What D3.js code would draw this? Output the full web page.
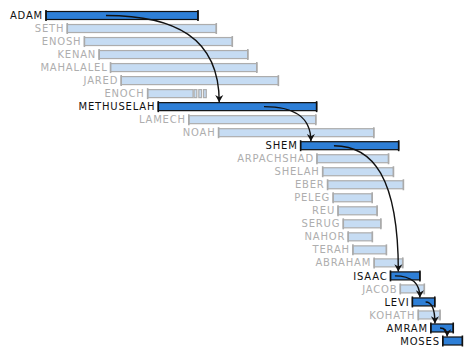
<!DOCTYPE html>
<html><head><meta charset="utf-8">
<script src="https://cdn.jsdelivr.net/npm/d3@7"></script>
<style>body{margin:0;background:#fff}svg{display:block}</style>
</head><body>
<svg id="c" width="474" height="355"></svg>
<script>
const names = ["ADAM","SETH","ENOSH","KENAN","MAHALALEL","JARED","ENOCH","METHUSELAH","LAMECH","NOAH","SHEM","ARPACHSHAD","SHELAH","EBER","PELEG","REU","SERUG","NAHOR","TERAH","ABRAHAM","ISAAC","JACOB","LEVI","KOHATH","AMRAM","MOSES"];
const births = [0,130,235,325,395,460,622,687,874,1056,1558,1658,1693,1723,1757,1787,1819,1849,1878,2008,2108,2168,2242,2278,2355,2428];
const deaths = [930,1042,1140,1235,1290,1422,987,1656,1651,2006,2158,2096,2126,2187,1996,2026,2049,1997,2083,2183,2288,2315,2379,2411,2492,2548];
const highlighted = ["ADAM","METHUSELAH","SHEM","ISAAC","LEVI","AMRAM","MOSES"];
// Enoch: solid until this year, then dashed ("taken")
const enochFadeFrom = 900;
// arrows: from person / year -> to person / year
const arrowFromName = ["ADAM","METHUSELAH","SHEM","ISAAC","LEVI","AMRAM"];
const arrowToName   = ["METHUSELAH","SHEM","ISAAC","LEVI","AMRAM","MOSES"];
const arrowFromYear = [367,1334,1762,2135,2323,2411];
const arrowToYear   = [1060,1621,2156,2288,2380,2455];

const svg = d3.select("#c");
const x = d3.scaleLinear().domain([0, 2548]).range([46, 462.4]);
const y = d3.scalePoint().domain(names).range([15.5, 341]);
const barH = 8, capH = 11;
const darkFill = "#2e7fd7", lightFill = "#c6dcf3", lightStroke = "#adadad";

const rows = names.map((n,i)=>({name:n,b:births[i],d:deaths[i],hi:highlighted.includes(n)}));

const g = svg.append("g");
rows.forEach(r=>{
  const yc = y(r.name);
  const endSolid = r.name==="ENOCH" ? enochFadeFrom : r.d;
  g.append("rect").attr("x",x(r.b)).attr("y",yc-barH/2).attr("width",x(endSolid)-x(r.b)).attr("height",barH)
    .attr("fill",r.hi?darkFill:lightFill).attr("stroke",r.hi?"#111":lightStroke).attr("stroke-width",1.2);
  if(r.name==="ENOCH"){
    const seg = (x(r.d)-x(enochFadeFrom))/3;
    for(let k=0;k<3;k++){
      g.append("rect").attr("x",x(enochFadeFrom)+k*seg+1).attr("y",yc-barH/2).attr("width",seg-2).attr("height",barH)
        .attr("fill",lightFill).attr("stroke",lightStroke).attr("stroke-width",1.2);
    }
  }
  const caps = r.name==="ENOCH" ? [r.b] : [r.b, r.d];
  caps.forEach(v=>{
    g.append("line").attr("x1",x(v)).attr("x2",x(v)).attr("y1",yc-capH/2).attr("y2",yc+capH/2)
      .attr("stroke",r.hi?"#111":"#aaa").attr("stroke-width",1.6);
  });
  g.append("text").attr("x",x(r.b)-3).attr("y",yc).attr("dy","0.36em")
    .attr("text-anchor","end").attr("font-family","DejaVu Sans, sans-serif").attr("font-size",10)
    .attr("letter-spacing",0.8).attr("fill",r.hi?"#111":"#aeaeae").text(r.name);
});

svg.append("defs").append("marker").attr("id","ah").attr("viewBox","-9 -5 10 10")
  .attr("refX",0).attr("refY",0).attr("markerWidth",9).attr("markerHeight",9).attr("markerUnits","userSpaceOnUse")
  .attr("orient","auto").append("path").attr("d","M0,0 L-8,-4.5 L-5.5,0 L-8,4.5 Z").attr("fill","#111");

arrowFromName.forEach((f,i)=>{
  const x1 = x(arrowFromYear[i]), y1 = y(f);
  const x2 = x(arrowToYear[i]), y2 = y(arrowToName[i]) - barH/2 - 0.5;
  svg.append("path").attr("d",`M${x1},${y1} C${x1+(x2-x1)*0.6},${y1} ${x2},${y1+(y2-y1)*0.25} ${x2},${y2}`)
    .attr("fill","none").attr("stroke","#111").attr("stroke-width",1.4).attr("marker-end","url(#ah)");
});
</script>
</body></html>
